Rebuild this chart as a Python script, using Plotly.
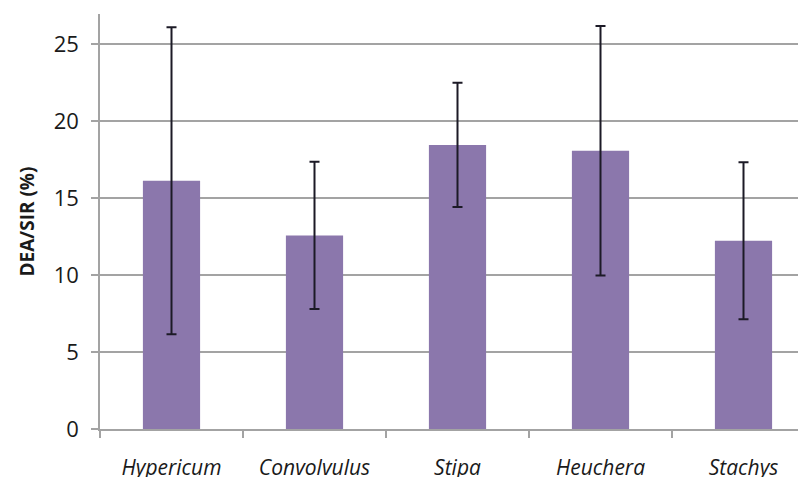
import plotly.graph_objects as go

categories = ["Hypericum", "Convolvulus", "Stipa", "Heuchera", "Stachys"]
values = [16.12, 12.57, 18.45, 18.07, 12.23]
errors = [9.97, 4.78, 4.04, 8.1, 5.1]
y_ticks = [0, 5, 10, 15, 20, 25]

fig = go.Figure()
fig.add_trace(go.Bar(
    x=categories,
    y=values,
    marker=dict(color="#8b77ac", line=dict(width=0)),
    width=0.4,
    error_y=dict(type="data", array=errors, visible=True,
                 color="#1c1a26", thickness=2, width=5),
))

fig.update_layout(
    width=806, height=477,
    margin=dict(l=92, r=0, t=6, b=56),
    paper_bgcolor="white", plot_bgcolor="white",
    showlegend=False,
    font=dict(family="Open Sans", size=21, color="#1a1a1a"),
    xaxis=dict(
        type="category",
        range=[-0.5, 4.493],
        showgrid=False,
        showline=True, linecolor="#a3a3a3", linewidth=1.5,
        ticks="outside", tickson="boundaries", ticklen=7,
        tickcolor="#a3a3a3", tickwidth=1.5,
        tickfont=dict(family="Open Sans", size=21, style="italic"),
        ticklabelstandoff=19,
    ),
    yaxis=dict(
        range=[0, 26.95],
        tickvals=y_ticks,
        showgrid=True, gridcolor="#a3a3a3", gridwidth=1.5,
        showline=True, linecolor="#a3a3a3", linewidth=1.5,
        ticks="outside", ticklen=7, tickcolor="#a3a3a3", tickwidth=1.5,
        tickfont=dict(family="Open Sans", size=22),
        zeroline=False,
        ticklabelstandoff=8,
    ),
    annotations=[dict(
        text="<b>DEA/SIR (%)</b>", textangle=-90,
        xref="paper", yref="paper", x=0, y=0.5,
        xshift=-74, xanchor="center", yanchor="middle",
        showarrow=False, font=dict(family="Open Sans", size=19, color="#1a1a1a"),
    )],
)

fig.write_html("out.html")
